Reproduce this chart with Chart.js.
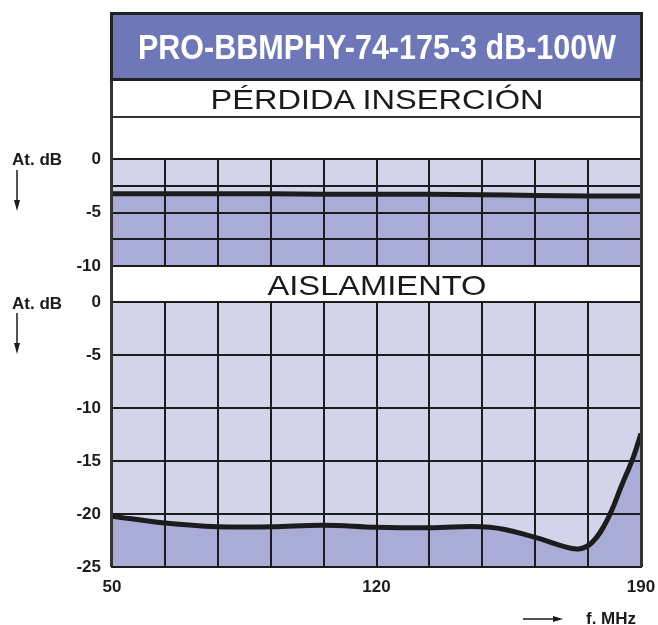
<!DOCTYPE html>
<html>
<head>
<meta charset="utf-8">
<script src="https://cdn.jsdelivr.net/npm/chart.js@4.4.0/dist/chart.umd.min.js"></script>
<style>
  body { margin: 0; background: #fff; }
  #wrap { position: relative; width: 658px; height: 625px; overflow: hidden; font-family: "Liberation Sans", Arial, sans-serif; }
  canvas { position: absolute; left: 0; }
  #c1 { top: 140px; }
  #c2 { top: 285px; }
  svg { position: absolute; left: 0; top: 0; pointer-events: none; }
</style>
</head>
<body>
<div id="wrap">
  <canvas id="c1" width="658" height="140"></canvas>
  <canvas id="c2" width="658" height="322"></canvas>
  <svg width="658" height="625" font-family="Liberation Sans, Arial, sans-serif">
    <!-- frame and title bands -->
    <line x1="111.5" y1="12" x2="111.5" y2="567" stroke="#333" stroke-width="3"/>
    <line x1="641.5" y1="12" x2="641.5" y2="567" stroke="#333" stroke-width="3"/>
    <rect x="111.5" y="13.5" width="530" height="66" fill="#6e77b8" stroke="#222" stroke-width="3"/>
    <text x="377" y="59" text-anchor="middle" font-size="35" font-weight="bold" fill="#fff"
          textLength="478" lengthAdjust="spacingAndGlyphs">PRO-BBMPHY-74-175-3 dB-100W</text>
    <text x="377" y="109" text-anchor="middle" font-size="28" fill="#1a1a1a"
          textLength="333" lengthAdjust="spacingAndGlyphs">PÉRDIDA INSERCIÓN</text>
    <line x1="112" y1="117" x2="641" y2="117" stroke="#333" stroke-width="2"/>
    <text x="377" y="295" text-anchor="middle" font-size="28" fill="#1a1a1a"
          textLength="219" lengthAdjust="spacingAndGlyphs">AISLAMIENTO</text>

    <!-- axis captions -->
    <text x="12" y="165" font-size="17" font-weight="bold" fill="#1a1a1a">At. dB</text>
    <line x1="17" y1="170" x2="17" y2="202" stroke="#1a1a1a" stroke-width="1.5"/>
    <polygon points="14,200 20,200 17,211" fill="#1a1a1a"/>
    <text x="12" y="309" font-size="17" font-weight="bold" fill="#1a1a1a">At. dB</text>
    <line x1="17" y1="313" x2="17" y2="345" stroke="#1a1a1a" stroke-width="1.5"/>
    <polygon points="14,343 20,343 17,354" fill="#1a1a1a"/>
    <line x1="523" y1="619" x2="555" y2="619" stroke="#1a1a1a" stroke-width="1.5"/>
    <polygon points="553,616 553,622 563,619" fill="#1a1a1a"/>
    <text x="586" y="624" font-size="17" font-weight="bold" fill="#1a1a1a">f. MHz</text>
  </svg>
</div>
<script>
// insertion loss curve (top panel)
var insFreq = [50, 64, 78, 92, 106, 120, 134, 148, 162, 176, 190];
var insLoss = [-3.25, -3.25, -3.25, -3.25, -3.3, -3.3, -3.3, -3.35, -3.4, -3.45, -3.45];

// isolation curve (bottom panel)
var isoFreq = [50, 64, 78, 92, 106, 120, 134, 150, 162, 169, 173.5, 177, 181, 185, 188, 190];
var isoLoss = [-20.2, -20.85, -21.2, -21.2, -21.05, -21.25, -21.3, -21.25, -22.2, -23.0, -23.3, -22.7, -20.6, -17.2, -14.6, -12.4];

// tick labels that are printed
var xLabels = [50, 120, 190];
var yLabelsTop = [0, -5, -10];
var yLabelsBottom = [0, -5, -10, -15, -20, -25];

var light = '#d3d4ea';
var dark = '#a9acd7';
var ink = '#1c1c1c';
var tickFont = { family: 'Liberation Sans, Arial, sans-serif', size: 17, weight: 'bold' };

function toPoints(xs, ys) {
  var pts = [];
  for (var i = 0; i < xs.length; i++) pts.push({ x: xs[i], y: ys[i] });
  return pts;
}

// paints the light background of the plot area
var plotBg = {
  id: 'plotBg',
  beforeDraw: function (chart) {
    var a = chart.chartArea, ctx = chart.ctx;
    ctx.save();
    ctx.fillStyle = light;
    ctx.fillRect(a.left, a.top, a.right - a.left, a.bottom - a.top);
    ctx.restore();
  }
};

function makeChart(id, pts, yMin, step, yLabels, showX, pad, xHeight) {
  return new Chart(document.getElementById(id), {
    type: 'line',
    data: {
      datasets: [{
        data: pts,
        borderColor: ink,
        borderWidth: 5,
        backgroundColor: dark,
        fill: 'start',
        pointRadius: 0,
        tension: 0.4
      }]
    },
    options: {
      responsive: false,
      animation: false,
      layout: { padding: pad },
      plugins: { legend: { display: false }, tooltip: { enabled: false } },
      scales: {
        x: {
          type: 'linear',
          min: 50, max: 190,
          grid: { color: ink, lineWidth: 2, drawTicks: false, z: 1 },
          border: { color: ink, width: 2, z: 1 },
          ticks: {
            display: showX,
            stepSize: 14,
            autoSkip: false,
            maxRotation: 0,
            padding: 10,
            color: ink,
            font: tickFont,
            callback: function (v) { return xLabels.indexOf(v) >= 0 ? String(v) : ''; }
          },
          afterFit: function (s) { s.height = xHeight; s.paddingLeft = 0; s.paddingRight = 0; }
        },
        y: {
          min: yMin, max: 0,
          grid: { color: ink, lineWidth: 2, drawTicks: false, z: 1 },
          border: { color: ink, width: 2, z: 1 },
          ticks: {
            stepSize: step,
            padding: 11,
            color: ink,
            font: tickFont,
            callback: function (v) { return yLabels.indexOf(v) >= 0 ? String(v) : ''; }
          },
          afterFit: function (s) { s.width = 112; s.paddingTop = 0; s.paddingBottom = 0; }
        }
      }
    },
    plugins: [plotBg]
  });
}

makeChart('c1', toPoints(insFreq, insLoss), -10, 2.5, yLabelsTop, false,
  { top: 19, right: 17, bottom: 14, left: 0 }, 0);
makeChart('c2', toPoints(isoFreq, isoLoss), -25, 5, yLabelsBottom, true,
  { top: 17, right: 17, bottom: 0, left: 0 }, 40);
</script>
</body>
</html>
